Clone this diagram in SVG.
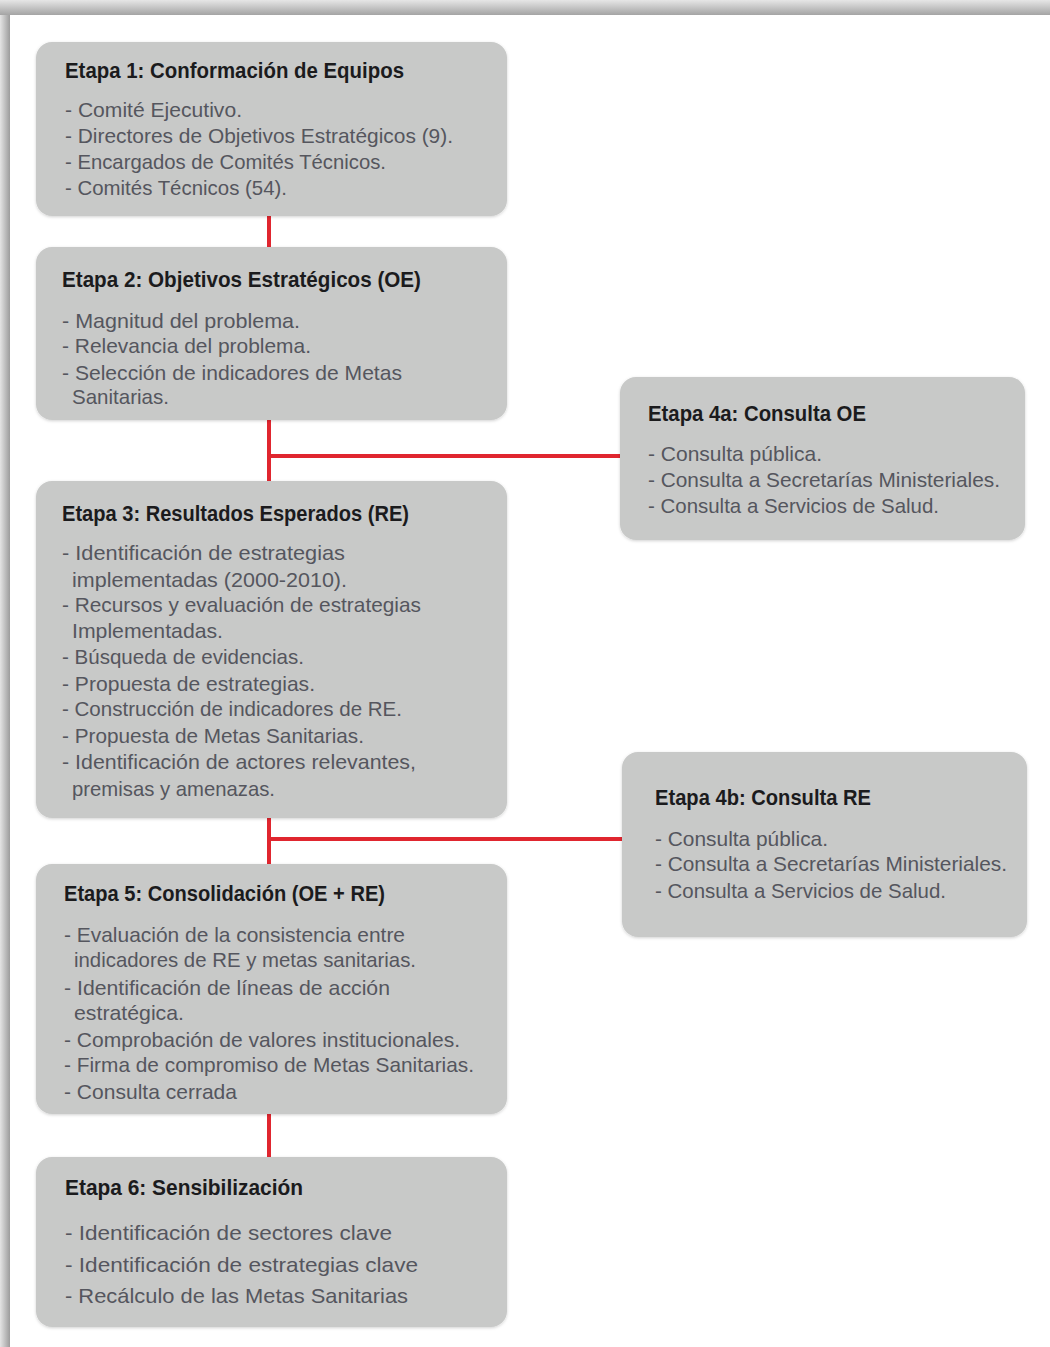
<svg xmlns="http://www.w3.org/2000/svg" width="1050" height="1347" viewBox="0 0 1050 1347">
  <defs>
    <linearGradient id="topEdge" x1="0" y1="0" x2="0" y2="1">
      <stop offset="0" stop-color="#e6e6e6"/>
      <stop offset="1" stop-color="#a4a4a4"/>
    </linearGradient>
    <linearGradient id="leftEdge" x1="0" y1="0" x2="1" y2="0">
      <stop offset="0" stop-color="#e4e4e4"/>
      <stop offset="1" stop-color="#9c9c9c"/>
    </linearGradient>
    <filter id="soft" x="-5%" y="-5%" width="110%" height="110%">
      <feGaussianBlur in="SourceAlpha" stdDeviation="1.5"/>
      <feOffset dx="0" dy="1" result="b"/>
      <feFlood flood-color="#000" flood-opacity="0.18"/>
      <feComposite in2="b" operator="in"/>
      <feMerge><feMergeNode/><feMergeNode in="SourceGraphic"/></feMerge>
    </filter>
  </defs>
  <style>
    .box { fill: #c8c9c8; filter: url(#soft); }
    .title { font-family: "Liberation Sans", "DejaVu Sans", sans-serif; font-weight: bold; font-size: 21.5px; fill: #1b1b1d; }
    .item { font-family: "Liberation Sans", "DejaVu Sans", sans-serif; font-size: 21px; fill: #55565e; }
    .link { stroke: #e0262f; stroke-width: 4; fill: none; }
  </style>

  <!-- page with edge shading -->
  <rect x="0" y="0" width="1050" height="1347" fill="#ffffff"/>
  <rect x="0" y="0" width="1050" height="15" fill="url(#topEdge)"/>
  <rect x="0" y="15" width="10" height="1332" fill="url(#leftEdge)"/>

  <!-- connectors -->
  <g id="connectors">
    <line class="link" x1="269" y1="214" x2="269" y2="249"/>
    <line class="link" x1="269" y1="418" x2="269" y2="483"/>
    <line class="link" x1="269" y1="456" x2="622" y2="456"/>
    <line class="link" x1="269" y1="816" x2="269" y2="866"/>
    <line class="link" x1="269" y1="839" x2="624" y2="839"/>
    <line class="link" x1="269" y1="1112" x2="269" y2="1159"/>
  </g>

  <g id="etapa1">
    <rect class="box" x="36" y="42" width="471" height="174" rx="16"/>
    <text class="title" x="65" y="78" textLength="339" lengthAdjust="spacingAndGlyphs">Etapa 1: Conformación de Equipos</text>
    <text class="item" x="65" y="117" textLength="177" lengthAdjust="spacingAndGlyphs">- Comité Ejecutivo.</text>
    <text class="item" x="65" y="143" textLength="388" lengthAdjust="spacingAndGlyphs">- Directores de Objetivos Estratégicos (9).</text>
    <text class="item" x="65" y="169" textLength="321" lengthAdjust="spacingAndGlyphs">- Encargados de Comités Técnicos.</text>
    <text class="item" x="65" y="195" textLength="222" lengthAdjust="spacingAndGlyphs">- Comités Técnicos (54).</text>
  </g>

  <g id="etapa2">
    <rect class="box" x="36" y="247" width="471" height="173" rx="16"/>
    <text class="title" x="62" y="287" textLength="359" lengthAdjust="spacingAndGlyphs">Etapa 2: Objetivos Estratégicos (OE)</text>
    <text class="item" x="62" y="328" textLength="238" lengthAdjust="spacingAndGlyphs">- Magnitud del problema.</text>
    <text class="item" x="62" y="353" textLength="249" lengthAdjust="spacingAndGlyphs">- Relevancia del problema.</text>
    <text class="item" x="62" y="380" textLength="340" lengthAdjust="spacingAndGlyphs">- Selección de indicadores de Metas</text>
    <text class="item" x="72" y="404" textLength="97" lengthAdjust="spacingAndGlyphs">Sanitarias.</text>
  </g>

  <g id="etapa4a">
    <rect class="box" x="620" y="377" width="405" height="163" rx="16"/>
    <text class="title" x="648" y="421" textLength="218" lengthAdjust="spacingAndGlyphs">Etapa 4a: Consulta OE</text>
    <text class="item" x="648" y="461" textLength="174" lengthAdjust="spacingAndGlyphs">- Consulta pública.</text>
    <text class="item" x="648" y="487" textLength="352" lengthAdjust="spacingAndGlyphs">- Consulta a Secretarías Ministeriales.</text>
    <text class="item" x="648" y="513" textLength="291" lengthAdjust="spacingAndGlyphs">- Consulta a Servicios de Salud.</text>
  </g>

  <g id="etapa3">
    <rect class="box" x="36" y="481" width="471" height="337" rx="16"/>
    <text class="title" x="62" y="521" textLength="347" lengthAdjust="spacingAndGlyphs">Etapa 3: Resultados Esperados (RE)</text>
    <text class="item" x="62" y="560" textLength="283" lengthAdjust="spacingAndGlyphs">- Identificación de estrategias</text>
    <text class="item" x="72" y="587" textLength="275" lengthAdjust="spacingAndGlyphs">implementadas (2000-2010).</text>
    <text class="item" x="62" y="612" textLength="359" lengthAdjust="spacingAndGlyphs">- Recursos y evaluación de estrategias</text>
    <text class="item" x="72" y="638" textLength="151" lengthAdjust="spacingAndGlyphs">Implementadas.</text>
    <text class="item" x="62" y="664" textLength="242" lengthAdjust="spacingAndGlyphs">- Búsqueda de evidencias.</text>
    <text class="item" x="62" y="691" textLength="253" lengthAdjust="spacingAndGlyphs">- Propuesta de estrategias.</text>
    <text class="item" x="62" y="716" textLength="340" lengthAdjust="spacingAndGlyphs">- Construcción de indicadores de RE.</text>
    <text class="item" x="62" y="743" textLength="302" lengthAdjust="spacingAndGlyphs">- Propuesta de Metas Sanitarias.</text>
    <text class="item" x="62" y="769" textLength="354" lengthAdjust="spacingAndGlyphs">- Identificación de actores relevantes,</text>
    <text class="item" x="72" y="796" textLength="203" lengthAdjust="spacingAndGlyphs">premisas y amenazas.</text>
  </g>

  <g id="etapa4b">
    <rect class="box" x="622" y="752" width="405" height="185" rx="16"/>
    <text class="title" x="655" y="805" textLength="216" lengthAdjust="spacingAndGlyphs">Etapa 4b: Consulta RE</text>
    <text class="item" x="655" y="846" textLength="173" lengthAdjust="spacingAndGlyphs">- Consulta pública.</text>
    <text class="item" x="655" y="871" textLength="352" lengthAdjust="spacingAndGlyphs">- Consulta a Secretarías Ministeriales.</text>
    <text class="item" x="655" y="898" textLength="291" lengthAdjust="spacingAndGlyphs">- Consulta a Servicios de Salud.</text>
  </g>

  <g id="etapa5">
    <rect class="box" x="36" y="864" width="471" height="250" rx="16"/>
    <text class="title" x="64" y="901" textLength="321" lengthAdjust="spacingAndGlyphs">Etapa 5: Consolidación (OE + RE)</text>
    <text class="item" x="64" y="942" textLength="341" lengthAdjust="spacingAndGlyphs">- Evaluación de la consistencia entre</text>
    <text class="item" x="74" y="967" textLength="342" lengthAdjust="spacingAndGlyphs">indicadores de RE y metas sanitarias.</text>
    <text class="item" x="64" y="995" textLength="326" lengthAdjust="spacingAndGlyphs">- Identificación de líneas de acción</text>
    <text class="item" x="74" y="1020" textLength="110" lengthAdjust="spacingAndGlyphs">estratégica.</text>
    <text class="item" x="64" y="1047" textLength="396" lengthAdjust="spacingAndGlyphs">- Comprobación de valores institucionales.</text>
    <text class="item" x="64" y="1072" textLength="410" lengthAdjust="spacingAndGlyphs">- Firma de compromiso de Metas Sanitarias.</text>
    <text class="item" x="64" y="1099" textLength="173" lengthAdjust="spacingAndGlyphs">- Consulta cerrada</text>
  </g>

  <g id="etapa6">
    <rect class="box" x="36" y="1157" width="471" height="170" rx="16"/>
    <text class="title" x="65" y="1195" textLength="238" lengthAdjust="spacingAndGlyphs">Etapa 6: Sensibilización</text>
    <text class="item" x="65" y="1240" textLength="327" lengthAdjust="spacingAndGlyphs">- Identificación de sectores clave</text>
    <text class="item" x="65" y="1272" textLength="353" lengthAdjust="spacingAndGlyphs">- Identificación de estrategias clave</text>
    <text class="item" x="65" y="1303" textLength="343" lengthAdjust="spacingAndGlyphs">- Recálculo de las Metas Sanitarias</text>
  </g>
</svg>
